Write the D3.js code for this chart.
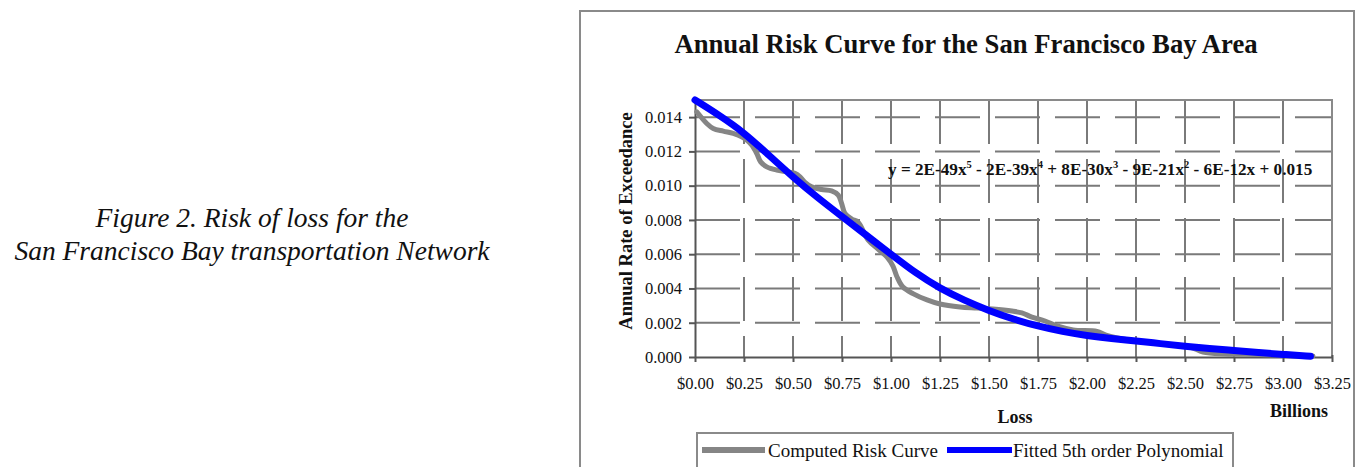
<!DOCTYPE html>
<html>
<head>
<meta charset="utf-8">
<script src="https://cdn.jsdelivr.net/npm/d3@7"></script>
<style>
  html, body { margin: 0; padding: 0; background: #fff; }
  svg { display: block; }
  text { font-family: "Liberation Serif", "Times New Roman", serif; fill: #111; }
</style>
</head>
<body>
<svg id="chart" width="1367" height="467"></svg>
<script>
// Loss in billions of dollars vs. annual rate of exceedance
const computedLoss = [0.009, 0.06, 0.093, 0.144, 0.195, 0.238, 0.264, 0.289, 0.315, 0.335, 0.366, 0.417,
  0.468, 0.51, 0.536, 0.561, 0.595, 0.646, 0.697, 0.731, 0.748, 0.765, 0.80, 0.832, 0.883, 0.934, 0.98,
  1.01, 1.031, 1.061, 1.112, 1.184, 1.25, 1.352, 1.439, 1.52, 1.617, 1.668, 1.719, 1.786, 1.847, 1.929,
  2.051, 2.097, 2.219, 2.372, 2.526, 2.592, 2.704, 2.883, 3.036, 3.153];
const computedRate = [0.01431, 0.01363, 0.01334, 0.01318, 0.01305, 0.01285, 0.01266, 0.01237, 0.01188,
  0.01139, 0.0111, 0.01091, 0.01081, 0.01072, 0.01052, 0.01019, 0.00993, 0.00978, 0.0097, 0.00945,
  0.00897, 0.00838, 0.00805, 0.00788, 0.00683, 0.0063, 0.00583, 0.00531, 0.00467, 0.00408, 0.0037,
  0.00333, 0.00309, 0.00292, 0.00286, 0.0028, 0.00268, 0.00257, 0.00233, 0.0021, 0.00181, 0.00158,
  0.00149, 0.00128, 0.00099, 0.00079, 0.00058, 0.00029, 0.00018, 0.00015, 0.00009, 0.00006];

const fittedLoss = [0, 0.125, 0.25, 0.375, 0.5, 0.625, 0.75, 0.875, 1.0, 1.125, 1.25, 1.375, 1.5, 1.625,
  1.75, 1.875, 2.0, 2.125, 2.25, 2.375, 2.5, 2.625, 2.75, 2.875, 3.0, 3.14];
const fittedRate = [0.0150, 0.0141, 0.0131, 0.0118, 0.0105, 0.0093, 0.0082, 0.0071, 0.0060, 0.0049,
  0.0040, 0.0033, 0.0027, 0.0022, 0.0018, 0.00148, 0.00125, 0.00108, 0.00094, 0.00078, 0.00063,
  0.0005, 0.00038, 0.00026, 0.00015, 0.00004];

const xTicks = [0, 0.25, 0.5, 0.75, 1.0, 1.25, 1.5, 1.75, 2.0, 2.25, 2.5, 2.75, 3.0, 3.25];
const yTicks = [0, 0.002, 0.004, 0.006, 0.008, 0.010, 0.012, 0.014];

const seriesNames = ["Computed Risk Curve", "Fitted 5th order Polynomial"];
const seriesColors = ["#858585", "#0000ff"];

const titleText = "Annual Risk Curve for the San Francisco Bay Area";
const yTitle = "Annual Rate of Exceedance";
const xTitle = "Loss";
const unitText = "Billions";
const captionLines = ["Figure 2. Risk of loss for the", "San Francisco Bay transportation Network"];
// trend-line equation: [base, superscript] pieces
const equationParts = [["y = 2E-49x", "5"], [" - 2E-39x", "4"], [" + 8E-30x", "3"], [" - 9E-21x", "2"], [" - 6E-12x + 0.015", ""]];

const svg = d3.select("#chart");

const plot = { left: 695, right: 1332, top: 100, bottom: 357 };
const x = d3.scaleLinear().domain([0, 3.25]).range([plot.left, plot.right]);
const y = d3.scaleLinear().domain([0, 0.015]).range([plot.bottom, plot.top]);

// caption on the left
const cap = svg.append("text")
  .attr("text-anchor", "middle")
  .style("font-style", "italic")
  .style("font-size", "27.5px");
captionLines.forEach((t, i) => {
  cap.append("tspan").attr("x", 252).attr("y", 227 + i * 33).text(t);
});

// chart frame
svg.append("rect")
  .attr("x", 580).attr("y", 11).attr("width", 774).attr("height", 470)
  .attr("fill", "none").attr("stroke", "#8a8a8a").attr("stroke-width", 2);

svg.append("text")
  .attr("x", 966).attr("y", 53)
  .attr("text-anchor", "middle")
  .style("font-weight", "bold").style("font-size", "26.7px")
  .text(titleText);

// gridlines
const grid = svg.append("g").attr("stroke", "#7a7a7a").attr("stroke-width", 2);
grid.selectAll("line.h")
  .data(yTicks.filter(d => d > 0))
  .join("line")
  .attr("class", "h")
  .attr("x1", plot.left).attr("x2", plot.right)
  .attr("y1", d => y(d)).attr("y2", d => y(d))
  .attr("stroke-dasharray", "45,15");
grid.selectAll("line.v")
  .data(xTicks.filter(d => d > 0 && d < 3.25))
  .join("line")
  .attr("class", "v")
  .attr("x1", d => x(d)).attr("x2", d => x(d))
  .attr("y1", plot.top).attr("y2", plot.bottom)
  .attr("stroke-dasharray", "44,15");

// plot-area border (top and right)
svg.append("path")
  .attr("d", `M${plot.left},${plot.top}H${plot.right}V${plot.bottom}`)
  .attr("fill", "none").attr("stroke", "#8a8a8a").attr("stroke-width", 2);

// axes
const yAxis = svg.append("g")
  .attr("transform", `translate(${plot.left},0)`)
  .call(d3.axisLeft(y).tickValues(yTicks).tickFormat(d => d.toFixed(3)).tickSize(6).tickSizeOuter(0));
const xAxis = svg.append("g")
  .attr("transform", `translate(0,${plot.bottom})`)
  .call(d3.axisBottom(x).tickValues(xTicks).tickFormat(d => "$" + d.toFixed(2)).tickSize(5).tickSizeOuter(0));

[yAxis, xAxis].forEach(a => {
  a.select(".domain").attr("stroke", "#555").attr("stroke-width", 2);
  a.selectAll(".tick line").attr("stroke", "#555").attr("stroke-width", 2);
  a.selectAll(".tick text")
    .style("font-family", '"Liberation Serif", "Times New Roman", serif')
    .style("font-size", "16.5px").attr("fill", "#222");
});
yAxis.selectAll(".tick text").attr("x", -13);
xAxis.selectAll(".tick text").attr("y", 20);
// the outer tick at 3.25 sits under the border, keep the label only
xAxis.selectAll(".tick").filter(d => d === 3.25).select("line").attr("y1", -2);

// series lines
const line = d3.line().x(d => x(d[0])).y(d => y(d[1]));
const computed = d3.zip(computedLoss, computedRate);
const fitted = d3.zip(fittedLoss, fittedRate);

svg.append("path")
  .datum(computed)
  .attr("d", line.curve(d3.curveCatmullRom.alpha(0.5)))
  .attr("fill", "none").attr("stroke", seriesColors[0])
  .attr("stroke-width", 5).attr("stroke-linejoin", "round").attr("stroke-linecap", "round");

svg.append("path")
  .datum(fitted)
  .attr("d", line.curve(d3.curveBasis))
  .attr("fill", "none").attr("stroke", seriesColors[1])
  .attr("stroke-width", 7).attr("stroke-linejoin", "round").attr("stroke-linecap", "round");

// trend-line equation with superscript powers
const eq = svg.append("text")
  .attr("x", 888).attr("y", 175)
  .style("font-weight", "bold").style("font-size", "17.2px");
let raised = false;
equationParts.forEach(([base, sup]) => {
  eq.append("tspan").attr("dy", raised ? 7 : 0).text(base);
  raised = false;
  if (sup) {
    eq.append("tspan").attr("dy", -7).style("font-size", "10.5px").text(sup);
    raised = true;
  }
});

// axis titles
svg.append("text")
  .attr("transform", "translate(632,221) rotate(-90)")
  .attr("text-anchor", "middle")
  .style("font-weight", "bold").style("font-size", "18.5px")
  .text(yTitle);
svg.append("text")
  .attr("x", 1015).attr("y", 423).attr("text-anchor", "middle")
  .style("font-weight", "bold").style("font-size", "18px")
  .text(xTitle);
svg.append("text")
  .attr("x", 1299).attr("y", 417).attr("text-anchor", "middle")
  .style("font-weight", "bold").style("font-size", "18px")
  .text(unitText);

// legend
const legend = svg.append("g");
legend.append("rect")
  .attr("x", 697).attr("y", 433).attr("width", 536).attr("height", 60)
  .attr("fill", "#fff").attr("stroke", "#8a8a8a").attr("stroke-width", 2);
const legendItems = [
  { x0: 702, x1: 765, tx: 768 },
  { x0: 947, x1: 1012, tx: 1013 }
];
legendItems.forEach((it, i) => {
  legend.append("line")
    .attr("x1", it.x0).attr("x2", it.x1).attr("y1", 450).attr("y2", 450)
    .attr("stroke", seriesColors[i]).attr("stroke-width", 6);
  legend.append("text")
    .attr("x", it.tx).attr("y", 457)
    .style("font-size", "19px")
    .text(seriesNames[i]);
});
</script>
</body>
</html>
